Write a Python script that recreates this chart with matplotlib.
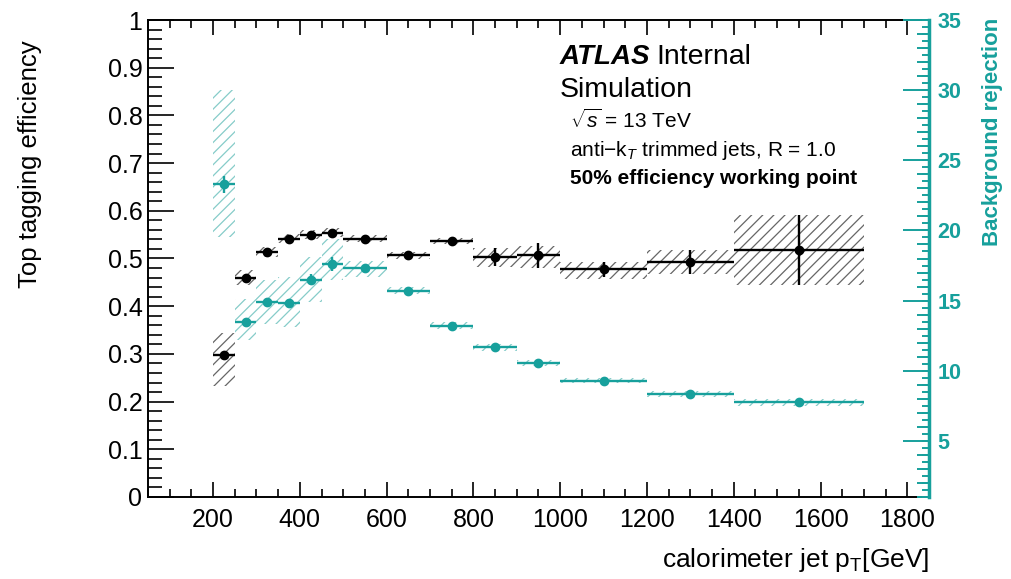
import numpy as np
import matplotlib.pyplot as plt
from matplotlib.ticker import MultipleLocator, FormatStrFormatter, NullLocator

plt.rcParams['font.family'] = ['Liberation Sans', 'DejaVu Sans']
plt.rcParams['mathtext.fontset'] = 'custom'
plt.rcParams['mathtext.rm'] = 'Liberation Sans'
plt.rcParams['mathtext.it'] = 'Liberation Sans:italic'
plt.rcParams['hatch.linewidth'] = 0.9

TEAL = '#17a09c'

# pT bins [GeV]
bin_lo = np.array([200, 250, 300, 350, 400, 450, 500, 600, 700, 800, 900, 1000, 1200, 1400])
bin_hi = np.array([250, 300, 350, 400, 450, 500, 600, 700, 800, 900, 1000, 1200, 1400, 1700])

# top tagging efficiency (left axis)
eff = [0.297, 0.460, 0.514, 0.541, 0.549, 0.554, 0.541, 0.507, 0.536, 0.504, 0.507, 0.477, 0.493, 0.518]
eff_stat = [0.008, 0.007, 0.007, 0.007, 0.007, 0.007, 0.004, 0.004, 0.005, 0.019, 0.026, 0.016, 0.025, 0.073]
eff_syst_lo = [0.232, 0.445, 0.503, 0.532, 0.540, 0.546, 0.534, 0.500, 0.530, 0.482, 0.481, 0.456, 0.467, 0.444]
eff_syst_hi = [0.344, 0.476, 0.525, 0.552, 0.559, 0.563, 0.549, 0.514, 0.543, 0.522, 0.527, 0.493, 0.518, 0.591]

# background rejection (right axis)
rej = [23.3, 13.45, 14.9, 14.8, 16.5, 17.6, 17.3, 15.7, 13.2, 11.66, 10.55, 9.29, 8.34, 7.74]
rej_stat = [0.6, 0.3, 0.3, 0.3, 0.4, 0.5, 0.15, 0.1, 0.1, 0.08, 0.08, 0.06, 0.06, 0.06]
rej_syst_lo = [19.5, 12.2, 13.3, 13.1, 14.9, 16.5, 16.7, 15.45, 12.95, 11.4, 10.35, 9.1, 8.1, 7.5]
rej_syst_hi = [30.0, 15.1, 16.5, 16.7, 18.1, 19.4, 17.8, 16.0, 13.45, 11.9, 10.75, 9.5, 8.55, 7.95]
rej_range = (1, 35)

x = (bin_lo + bin_hi) / 2.0
xw = (bin_hi - bin_lo) / 2.0

rect = [148 / 1012, 82 / 579, 781 / 1012, 477 / 579]
fig = plt.figure(figsize=(10.12, 5.79), dpi=100)
ax = fig.add_axes(rect)
ax2 = ax.twinx()

# systematic bands
ax.bar(bin_lo, np.array(eff_syst_hi) - np.array(eff_syst_lo), width=bin_hi - bin_lo,
       bottom=eff_syst_lo, align='edge', fill=False, hatch='///', edgecolor='#666666', linewidth=0)
ax2.bar(bin_lo, np.array(rej_syst_hi) - np.array(rej_syst_lo), width=bin_hi - bin_lo,
        bottom=rej_syst_lo, align='edge', fill=False, hatch='///', edgecolor='#86ccc9', linewidth=0)

ax2.errorbar(x, rej, xerr=xw, yerr=rej_stat, fmt='o', color=TEAL, ms=6,
             elinewidth=1.7, capsize=0)
ax.errorbar(x, eff, xerr=xw, yerr=eff_stat, fmt='o', color='black', ms=6,
            elinewidth=1.7, capsize=0)
ax.set_zorder(ax2.get_zorder() + 1)
ax.patch.set_visible(False)

ax.set_xlim(50, 1850)
ax.set_ylim(0, 1)
ax2.set_ylim(*rej_range)
ax2.axis('off')

ax.xaxis.set_major_locator(MultipleLocator(200))
ax.xaxis.set_minor_locator(MultipleLocator(50))
ax.yaxis.set_major_locator(MultipleLocator(0.1))
ax.yaxis.set_minor_locator(MultipleLocator(0.02))
ax.yaxis.set_major_formatter(FormatStrFormatter('%g'))

ax.tick_params(which='both', direction='in', top=True, right=False, labelsize=18, width=1.2)
ax.tick_params(axis='y', which='major', length=19)
ax.tick_params(axis='y', which='minor', length=10)
ax.tick_params(axis='x', which='major', length=11, pad=8)
ax.tick_params(axis='x', which='minor', length=6)
ax.tick_params(axis='y', pad=4)
for s in ['left', 'top', 'bottom']:
    ax.spines[s].set_linewidth(1.4)
ax.spines['right'].set_visible(False)

# right (background rejection) axis drawn on its own overlay axes
rax = fig.add_axes(rect, zorder=10)
rax.patch.set_visible(False)
rax.set_ylim(*rej_range)
rax.xaxis.set_major_locator(NullLocator())
rax.yaxis.tick_right()
rax.yaxis.set_major_locator(MultipleLocator(5))
rax.yaxis.set_minor_locator(MultipleLocator(1))
rax.tick_params(axis='y', which='both', direction='in', colors=TEAL, width=1.4,
                labelsize=15.5)
rax.tick_params(axis='y', which='major', length=19, pad=6)
rax.tick_params(axis='y', which='minor', length=9)
for s in ['left', 'top', 'bottom']:
    rax.spines[s].set_visible(False)
rax.spines['right'].set_color(TEAL)
rax.spines['right'].set_linewidth(2.5)
for lab in rax.get_yticklabels():
    lab.set_fontweight('bold')

hax = fig.add_axes(rect, zorder=9)
hax.patch.set_visible(False)
hax.set_ylim(*rej_range)
hax.xaxis.set_major_locator(NullLocator())
hax.yaxis.tick_right()
hax.yaxis.set_major_locator(MultipleLocator(0.5))
hax.tick_params(axis='y', direction='in', colors=TEAL, width=1.4, length=5, labelright=False)
for s in hax.spines.values():
    s.set_visible(False)

fig.text(30 / 1012, 1 - 40 / 579, 'Top tagging efficiency', rotation=90,
         ha='center', va='top', fontsize=18.5)
fig.text(929 / 1012, 1 - 560 / 579, r'calorimeter jet p$_{\mathregular{T}}$[GeV]',
         ha='right', va='center', fontsize=19)
fig.text(993 / 1012, 1 - 18 / 579, 'Background rejection', rotation=90,
         ha='center', va='top', fontsize=16, fontweight='bold', color=TEAL)

t = fig.text(560 / 1012, 1 - 57 / 579, 'ATLAS', ha='left', va='center',
             fontsize=20, fontweight='bold', fontstyle='italic')
fig.canvas.draw()
bb = t.get_window_extent()
fig.text(bb.x1 / 1012 + 0.006, 1 - 57 / 579, 'Internal', ha='left', va='center', fontsize=20.5)
fig.text(560 / 1012, 1 - 90 / 579, 'Simulation', ha='left', va='center', fontsize=20.5)
fig.text(570 / 1012, 1 - 120 / 579, r'$\sqrt{s}$ = 13 TeV', ha='left', va='center', fontsize=15)
fig.text(570 / 1012, 1 - 150 / 579, r'anti$-$k$_{T}$ trimmed jets, R = 1.0', ha='left',
         va='center', fontsize=15)
fig.text(570 / 1012, 1 - 179 / 579, '50% efficiency working point', ha='left',
         va='center', fontsize=15, fontweight='bold')

fig.savefig('out.png', dpi=100)
